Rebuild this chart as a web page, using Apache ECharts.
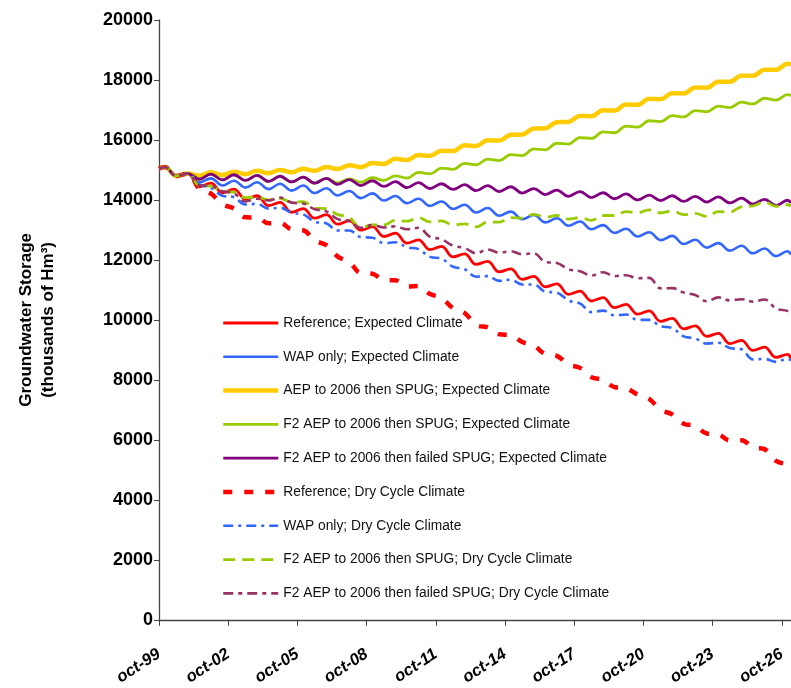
<!DOCTYPE html>
<html>
<head>
<meta charset="utf-8">
<script src="https://cdn.jsdelivr.net/npm/echarts@6/dist/echarts.min.js"></script>
<style>
  html, body { margin: 0; padding: 0; background: #fff; }
  #chartStorage { width: 791px; height: 688px; }
</style>
</head>
<body>
<div id="chartStorage"></div>
<script>
// years after oct-99 (jan / jul sample points)
var yearsSinceOct99 = [0, 0.25, 0.75, 1.25, 1.75, 2.25, 2.75, 3.25, 3.75, 4.25, 4.75, 5.25, 5.75, 6.25, 6.75,
    7.25, 7.75, 8.25, 8.75, 9.25, 9.75, 10.25, 10.75, 11.25, 11.75, 12.25, 12.75, 13.25, 13.75, 14.25, 14.75,
    15.25, 15.75, 16.25, 16.75, 17.25, 17.75, 18.25, 18.75, 19.25, 19.75, 20.25, 20.75, 21.25, 21.75, 22.25,
    22.75, 23.25, 23.75, 24.25, 24.75, 25.25, 25.75, 26.25, 26.75, 27.25, 27.4];

var refExpected = [15050, 15100, 14800, 14880, 14440, 14560, 14240, 14360, 14030, 14140, 13810, 13920, 13590, 13710,
    13390, 13510, 13190, 13310, 12990, 13110, 12780, 12890, 12560, 12670, 12340, 12450, 12100, 12200, 11850, 11950,
    11600, 11700, 11350, 11450, 11100, 11200, 10850, 10960, 10630, 10740, 10410, 10520, 10190, 10300, 9950, 10050,
    9700, 9800, 9450, 9550, 9210, 9320, 8980, 9090, 8750, 8850, 8700];
var wapExpected = [15050, 15100, 14800, 14880, 14580, 14720, 14480, 14640, 14410, 14590, 14360, 14540, 14310, 14480,
    14230, 14390, 14150, 14300, 14060, 14220, 13980, 14130, 13890, 14040, 13800, 13950, 13700, 13840, 13580, 13730,
    13470, 13610, 13360, 13500, 13250, 13390, 13140, 13280, 13020, 13160, 12900, 13040, 12780, 12920, 12660, 12800,
    12530, 12670, 12410, 12560, 12310, 12470, 12220, 12380, 12130, 12290, 12180];
var aepExpected = [15050, 15100, 14800, 14880, 14810, 14920, 14830, 14940, 14860, 14970, 14890, 15000, 14920, 15040,
    14970, 15100, 15030, 15160, 15090, 15230, 15200, 15370, 15330, 15500, 15470, 15640, 15630, 15820, 15800, 15990,
    15980, 16170, 16180, 16380, 16390, 16590, 16600, 16800, 16790, 16990, 16980, 17180, 17170, 17370, 17360, 17560,
    17550, 17750, 17740, 17940, 17940, 18140, 18140, 18340, 18340, 18540, 18520];
var f2Expected = [15050, 15100, 14800, 14880, 14690, 14860, 14670, 14840, 14650, 14820, 14620, 14790, 14600, 14760,
    14560, 14720, 14570, 14700, 14590, 14740, 14650, 14800, 14730, 14920, 14870, 15060, 15020, 15220, 15170, 15360,
    15310, 15510, 15480, 15700, 15670, 15890, 15860, 16080, 16050, 16270, 16240, 16460, 16430, 16640, 16610, 16810,
    16770, 16980, 16940, 17130, 17080, 17260, 17200, 17390, 17330, 17510, 17480];
var f2FailedExpected = [15050, 15100, 14800, 14880, 14690, 14860, 14670, 14840, 14650, 14820, 14620, 14790, 14600, 14760,
    14560, 14720, 14520, 14680, 14480, 14640, 14450, 14610, 14410, 14580, 14380, 14540, 14350, 14510, 14310, 14480,
    14280, 14440, 14230, 14380, 14180, 14330, 14120, 14280, 14080, 14240, 14040, 14200, 14000, 14160, 13980, 14140,
    13950, 14120, 13930, 14100, 13900, 14060, 13860, 14020, 13820, 13990, 13900];
var refDry = [15050, 15100, 14800, 14880, 14370, 14210, 13860, 13710, 13420, 13410, 13220, 13230, 13020, 12990,
    12650, 12490, 12110, 11930, 11560, 11540, 11330, 11320, 11110, 11130, 10860, 10730, 10390, 10230, 9830, 9750,
    9520, 9490, 9260, 9140, 8860, 8800, 8510, 8400, 8090, 8000, 7760, 7720, 7510, 7370, 7000, 6850,
    6540, 6470, 6210, 6180, 5980, 5990, 5750, 5690, 5300, 5180, 5150];
var wapDry = [15050, 15100, 14800, 14880, 14510, 14400, 14140, 14090, 13850, 13870, 13710, 13740, 13570, 13520,
    13270, 13220, 12980, 12980, 12760, 12740, 12560, 12590, 12420, 12360, 12100, 12040, 11770, 11690, 11440, 11460,
    11300, 11340, 11180, 11180, 10940, 10910, 10650, 10550, 10260, 10310, 10150, 10180, 10000, 10000, 9790, 9730,
    9450, 9380, 9210, 9240, 9060, 9020, 8680, 8700, 8600, 8700, 8650];
var f2Dry = [15050, 15100, 14800, 14880, 14480, 14460, 14280, 14260, 14080, 14100, 14000, 14050, 13930, 13940,
    13730, 13710, 13510, 13420, 13070, 13170, 13160, 13320, 13290, 13410, 13270, 13300, 13170, 13200, 13100, 13260,
    13260, 13410, 13390, 13520, 13420, 13480, 13360, 13410, 13320, 13480, 13480, 13610, 13570, 13670, 13570, 13630,
    13510, 13550, 13450, 13610, 13600, 13770, 13800, 13930, 13790, 13840, 13800];
var f2FailedDry = [15050, 15100, 14800, 14880, 14490, 14470, 14290, 14220, 13950, 14040, 13980, 14080, 13910, 13880,
    13690, 13620, 13360, 13290, 13070, 13160, 13080, 13120, 13020, 13070, 12770, 12690, 12470, 12400, 12220, 12350,
    12240, 12290, 12190, 12220, 11930, 11900, 11690, 11620, 11480, 11590, 11460, 11490, 11390, 11400, 11050, 11060,
    10910, 10830, 10620, 10750, 10650, 10690, 10610, 10680, 10380, 10300, 10220];

var seriesNames = [
    'Reference; Expected Climate',
    'WAP only; Expected Climate',
    'AEP to 2006 then SPUG; Expected Climate',
    'F2 AEP to 2006 then SPUG; Expected Climate',
    'F2 AEP to 2006 then failed SPUG; Expected Climate',
    'Reference; Dry Cycle Climate',
    'WAP only; Dry Cycle Climate',
    'F2 AEP to 2006 then SPUG; Dry Cycle Climate',
    'F2 AEP to 2006 then failed SPUG; Dry Cycle Climate'
];
var seriesValues = [refExpected, wapExpected, aepExpected, f2Expected, f2FailedExpected,
    refDry, wapDry, f2Dry, f2FailedDry];

var yTicks = { min: 0, max: 20000, step: 2000 };
var xTicks = { min: 0, max: 27.4, step: 3 }; // oct-99 .. oct-26

// line looks per series: colour, width, dash
var lineLooks = [
    ['#FF0000', 2.8, 'solid'],
    ['#3366FF', 2.6, 'solid'],
    ['#FFCC00', 4.5, 'solid'],
    ['#99CC00', 2.8, 'solid'],
    ['#800080', 2.8, 'solid'],
    ['#FF0000', 4.5, [9, 12]],
    ['#3366FF', 2.6, [10, 5, 3, 5]],
    ['#99CC00', 2.8, [12, 7]],
    ['#993366', 2.6, [10, 5, 4, 5]]
];

function pairs(values) {
    return yearsSinceOct99.map(function(t, i) { return [t, values[i]]; });
}

function makeLine(idx) {
    var look = lineLooks[idx];
    return {
        name: seriesNames[idx],
        type: 'line',
        smooth: 0.4,
        symbol: 'none',
        lineStyle: { color: look[0], width: look[1], type: look[2] },
        itemStyle: { color: look[0] },
        data: pairs(seriesValues[idx])
    };
}

var dom = document.getElementById('chartStorage');
var myChart = echarts.init(dom);
var fontFam = '"Liberation Sans", Arial, sans-serif';

var legendItems = seriesNames.map(function(name, i) {
    var look = lineLooks[i];
    return {
        name: name,
        lineStyle: { color: look[0], width: look[1], type: look[2] }
    };
});

var option = {
    backgroundColor: '#fff',
    animation: false,
    grid: { left: 159, right: 0, top: 20, bottom: 68 },
    legend: {
        orient: 'vertical',
        left: 221,
        top: 316,
        padding: 0,
        itemWidth: 55,
        itemHeight: 14,
        itemGap: 19.8,
        itemStyle: { opacity: 0 },
        textStyle: { fontSize: 13.8, color: '#111', fontFamily: fontFam },
        data: legendItems
    },
    xAxis: {
        type: 'value',
        min: xTicks.min,
        max: xTicks.max,
        interval: xTicks.step,
        splitLine: { show: false },
        axisLine: { lineStyle: { color: '#444', width: 1.3 } },
        axisTick: { show: true, length: 6, lineStyle: { color: '#444' } },
        axisLabel: {
            rotate: 33,
            margin: 33,
            fontSize: 16.5,
            fontWeight: 'bold',
            fontStyle: 'italic',
            color: '#000',
            fontFamily: fontFam,
            showMaxLabel: false,
            formatter: function(v) {
                if (v % 3 !== 0) return '';
                var yy = (99 + v) % 100;
                return 'oct-' + (yy < 10 ? '0' + yy : yy);
            }
        }
    },
    yAxis: {
        type: 'value',
        min: yTicks.min,
        max: yTicks.max,
        interval: yTicks.step,
        splitLine: { show: false },
        axisLine: { show: true, lineStyle: { color: '#444', width: 1.3 } },
        axisTick: { show: true, length: 5, lineStyle: { color: '#444' } },
        axisLabel: {
            fontSize: 18, fontWeight: 'bold', color: '#000', fontFamily: fontFam, margin: 6,
            formatter: function(v) { return String(v); }
        },
        name: 'Groundwater Storage\n(thousands of Hm³)',
        nameLocation: 'middle',
        nameGap: 100,
        nameTextStyle: { fontSize: 17, fontWeight: 'bold', color: '#000', fontFamily: fontFam, lineHeight: 22 }
    },
    series: seriesNames.map(function(name, i) { return makeLine(i); })
};

if (option && typeof option === 'object') {
    myChart.setOption(option);
}

window.addEventListener('resize', function() {
    myChart.resize();
});
</script>
</body>
</html>
